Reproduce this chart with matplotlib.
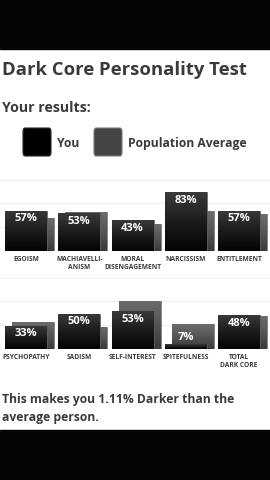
import matplotlib.pyplot as plt
import numpy as np
from matplotlib.colors import LinearSegmentedColormap
from matplotlib.patches import FancyBboxPatch

plt.rcParams['font.family'] = ['Open Sans', 'DejaVu Sans']
plt.rcParams['font.weight'] = 'bold'

TOP_LABELS = ['EGOISM', 'MACHIAVELLI-\nANISM', 'MORAL\nDISENGAGEMENT', 'NARCISSISM', 'ENTITLEMENT']
TOP_YOU = [57, 53, 43, 83, 57]
TOP_POP = [46, 55, 38, 56, 52]

BOTTOM_LABELS = ['PSYCHOPATHY', 'SADISM', 'SELF-INTEREST', 'SPITEFULNESS', 'TOTAL\nDARK CORE']
BOTTOM_YOU = [33, 50, 53, 7, 48]
BOTTOM_POP = [38, 31, 68, 35, 47]

W, H = 270, 480
TEXT = '#3a3a3a'
YOU_CMAP = LinearSegmentedColormap.from_list('you', ['#040404', '#1c1c1c', '#3a3a3a'])
POP_CMAP = LinearSegmentedColormap.from_list('pop', ['#3a3a3a', '#555555', '#6c6c6c'])
GRAD = np.linspace(0, 1, 64).reshape(-1, 1)


def fx(x):
    return x / W


def fy(y):
    return 1 - y / H


def gradient_bars(ax, bars, cmap, z):
    for rect in bars:
        x0, y0 = rect.get_x(), rect.get_y()
        w, h = rect.get_width(), rect.get_height()
        im = ax.imshow(GRAD, extent=[x0, x0 + w, y0, y0 + h], origin='lower',
                       cmap=cmap, aspect='auto', zorder=z, interpolation='bilinear')
        im.set_clip_path(rect)


def draw_chart(baseline_px, labels, you, pop):
    # 100% spans 71 px above the baseline
    ax = fig.add_axes([0, (H - baseline_px) / H, 1, 71 / H])
    ax.set_axis_off()
    x = np.arange(len(labels))
    step = 53.25
    width = 42 / step
    offset = 7 / step

    for g in (33.3, 67, 100):
        ax.axhline(g, color='#f0f0f0', lw=0.8, zorder=0)

    pop_bars = ax.bar(x + offset, pop, width, color='#555555', edgecolor='#7a7a7a', lw=0.5, zorder=1)
    gradient_bars(ax, pop_bars, POP_CMAP, 1.5)
    you_bars = ax.bar(x, you, width, color='#1a1a1a', edgecolor='#6a6a6a', lw=0.5, zorder=2)
    gradient_bars(ax, you_bars, YOU_CMAP, 2.5)

    for xi, v in zip(x, you):
        if v > 15:
            ax.text(xi, v - 4, f'{v}%', ha='center', va='top', color='white', fontsize=8, zorder=4)
        else:
            ax.text(xi, v + 2, f'{v}%', ha='center', va='bottom', color='white', fontsize=8, zorder=4)

    for xi, lab in zip(x, labels):
        ax.text(xi, -7, lab, ha='center', va='top', color=TEXT, fontsize=4.8,
                linespacing=1.25, zorder=4)

    ax.set_xlim(-26 / step, (W - 26) / step)
    ax.set_ylim(0, 100)
    return ax


fig = plt.figure(figsize=(W / 100, H / 100), dpi=100)
fig.patch.set_facecolor('white')

# black bands at top and bottom of the screenshot
fig.patches.append(plt.Rectangle((0, fy(49)), 1, 49 / H, transform=fig.transFigure, color='#050508', zorder=0))
fig.patches.append(plt.Rectangle((0, 0), 1, (H - 430) / H, transform=fig.transFigure, color='#050508', zorder=0))

fig.text(fx(2), fy(75), 'Dark Core Personality Test', fontsize=13.3, color=TEXT, va='baseline')
fig.text(fx(2), fy(112), 'Your results:', fontsize=10.2, color=TEXT, va='baseline')

for x0, c0, c1, label, tx in [(23, '#000000', '#2a2a2a', 'You', 57),
                               (94, '#444444', '#7a7a7a', 'Population Average', 128)]:
    box = FancyBboxPatch((fx(x0), fy(156)), 28 / W, 28 / H, boxstyle='round,pad=0,rounding_size=0.008',
                         transform=fig.transFigure, facecolor=c0, edgecolor=c1, lw=0.8)
    fig.patches.append(box)
    fig.text(fx(tx), fy(147), label, fontsize=8.7, color=TEXT, va='baseline')

draw_chart(251, TOP_LABELS, TOP_YOU, TOP_POP)
draw_chart(349, BOTTOM_LABELS, BOTTOM_YOU, BOTTOM_POP)

fig.text(fx(2), fy(403), 'This makes you 1.11% Darker than the', fontsize=8.75, color=TEXT, va='baseline')
fig.text(fx(2), fy(421), 'average person.', fontsize=8.75, color=TEXT, va='baseline')

fig.savefig('out.png', dpi=100, facecolor='white')
plt.close(fig)
